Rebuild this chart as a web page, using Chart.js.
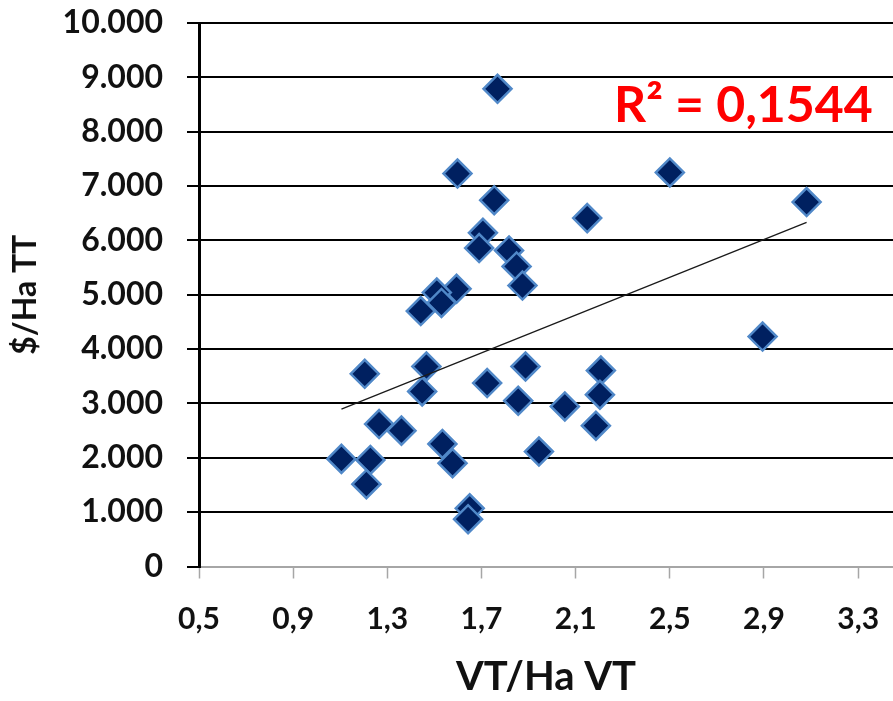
<!DOCTYPE html>
<html>
<head>
<meta charset="utf-8">
<script src="https://cdn.jsdelivr.net/npm/chart.js@4/dist/chart.umd.min.js"></script>
<style>
  html, body { margin: 0; padding: 0; background: #ffffff; }
  #wrap { width: 893px; height: 701px; overflow: hidden; }
</style>
</head>
<body>
<div id="wrap"><canvas id="c" width="893" height="701"></canvas></div>
<script>
// ---- Data ----
const xValues = [1.768, 1.598, 1.754, 2.149, 1.706, 1.690, 1.817, 1.849, 1.874, 1.594,
                 1.510, 1.530, 1.442, 1.204, 1.466, 1.448, 1.724, 1.887, 1.856, 2.054,
                 2.207, 2.203, 2.186, 1.265, 1.360, 1.105, 1.228, 1.211, 1.534, 1.577,
                 1.944, 1.650, 1.643, 2.500, 3.081, 2.894];
const yValues = [8790, 7230, 6740, 6410, 6140, 5860, 5815, 5520, 5170, 5110,
                 5040, 4850, 4700, 3545, 3680, 3220, 3375, 3680, 3050, 2945,
                 3605, 3160, 2590, 2620, 2500, 1980, 1960, 1515, 2255, 1900,
                 2115, 1070, 870, 7250, 6705, 4230];
const trendX = [1.105, 3.081];
const trendY = [2895, 6330];
const xTickValues = [0.5, 0.9, 1.3, 1.7, 2.1, 2.5, 2.9, 3.3];
const xTickLabels = ['0,5', '0,9', '1,3', '1,7', '2,1', '2,5', '2,9', '3,3'];
const yTickValues = [0, 1000, 2000, 3000, 4000, 5000, 6000, 7000, 8000, 9000, 10000];
const yTickLabels = ['0', '1.000', '2.000', '3.000', '4.000', '5.000', '6.000', '7.000', '8.000', '9.000', '10.000'];
const xTitle = 'VT/Ha VT';
const yTitle = '$/Ha TT';
const r2Text = 'R² = 0,1544';

const points = xValues.map((x, i) => ({ x: x, y: yValues[i] }));
const trend = trendX.map((x, i) => ({ x: x, y: trendY[i] }));

const r2Plugin = {
  id: 'r2label',
  afterDatasetsDraw(chart) {
    const { ctx, chartArea } = chart;
    ctx.save();
    ctx.font = 'bold 50px Lato';
    ctx.fillStyle = '#ff0000';
    ctx.textAlign = 'left';
    ctx.textBaseline = 'alphabetic';
    ctx.fillText(r2Text, chartArea.left + 415, chartArea.top + 99);
    ctx.restore();
  }
};

new Chart(document.getElementById('c'), {
  type: 'scatter',
  data: {
    datasets: [
      {
        type: 'line',
        data: trend,
        showLine: true,
        borderColor: '#1a1a1a',
        borderWidth: 1.3,
        pointRadius: 0,
        fill: false,
        order: 0
      },
      {
        data: points,
        pointStyle: 'rectRot',
        pointRadius: 14,
        pointHoverRadius: 14,
        backgroundColor: '#002060',
        borderColor: '#5088c8',
        borderWidth: 2.5,
        order: 1
      }
    ]
  },
  options: {
    responsive: false,
    animation: false,
    layout: { autoPadding: false, padding: { top: 23, right: 0, bottom: 0, left: 0 } },
    plugins: { legend: { display: false }, tooltip: { enabled: false } },
    scales: {
      x: {
        type: 'linear',
        min: 0.5,
        max: 3.448,
        afterBuildTicks(scale) { scale.ticks = xTickValues.map(v => ({ value: v })); },
        afterFit(scale) { scale.height = 134.5; scale.paddingLeft = 0; scale.paddingRight = 0; },
        ticks: {
          autoSkip: false,
          maxRotation: 0,
          padding: 23,
          color: '#111111',
          font: { family: 'Lato', weight: 'bold', size: 30 },
          callback(value) {
            const i = xTickValues.findIndex(v => Math.abs(v - value) < 1e-6);
            return i >= 0 ? xTickLabels[i] : '';
          }
        },
        grid: {
          drawOnChartArea: false,
          drawTicks: true,
          tickLength: 12,
          tickColor: '#a6a6a6',
          tickWidth: 1.5
        },
        border: { color: '#a6a6a6', width: 2 },
        title: {
          display: true,
          text: xTitle,
          color: '#111111',
          font: { family: 'Lato', weight: 'bold', size: 40, lineHeight: 1.0 },
          padding: { top: 0, bottom: 4 }
        }
      },
      y: {
        type: 'linear',
        min: 0,
        max: 10000,
        afterBuildTicks(scale) { scale.ticks = yTickValues.map(v => ({ value: v })); },
        afterFit(scale) { scale.width = 199; scale.paddingTop = 0; scale.paddingBottom = 0; },
        ticks: {
          autoSkip: false,
          padding: 24,
          color: '#111111',
          font: { family: 'Lato', weight: 'bold', size: 32 },
          callback(value) {
            const i = yTickValues.indexOf(value);
            return i >= 0 ? yTickLabels[i] : '';
          }
        },
        grid: {
          color: (c) => (c.tick && c.tick.value === 0 ? 'rgba(0,0,0,0)' : '#000000'),
          lineWidth: 2,
          drawTicks: true,
          tickLength: 12,
          tickColor: '#000000',
          tickWidth: 2
        },
        border: { color: '#000000', width: 3 },
        title: {
          display: true,
          text: yTitle,
          color: '#111111',
          font: { family: 'Lato', weight: 'bold', size: 32, lineHeight: 1.2 },
          padding: { top: 6, bottom: 0 }
        }
      }
    }
  },
  plugins: [r2Plugin]
});
</script>
</body>
</html>
